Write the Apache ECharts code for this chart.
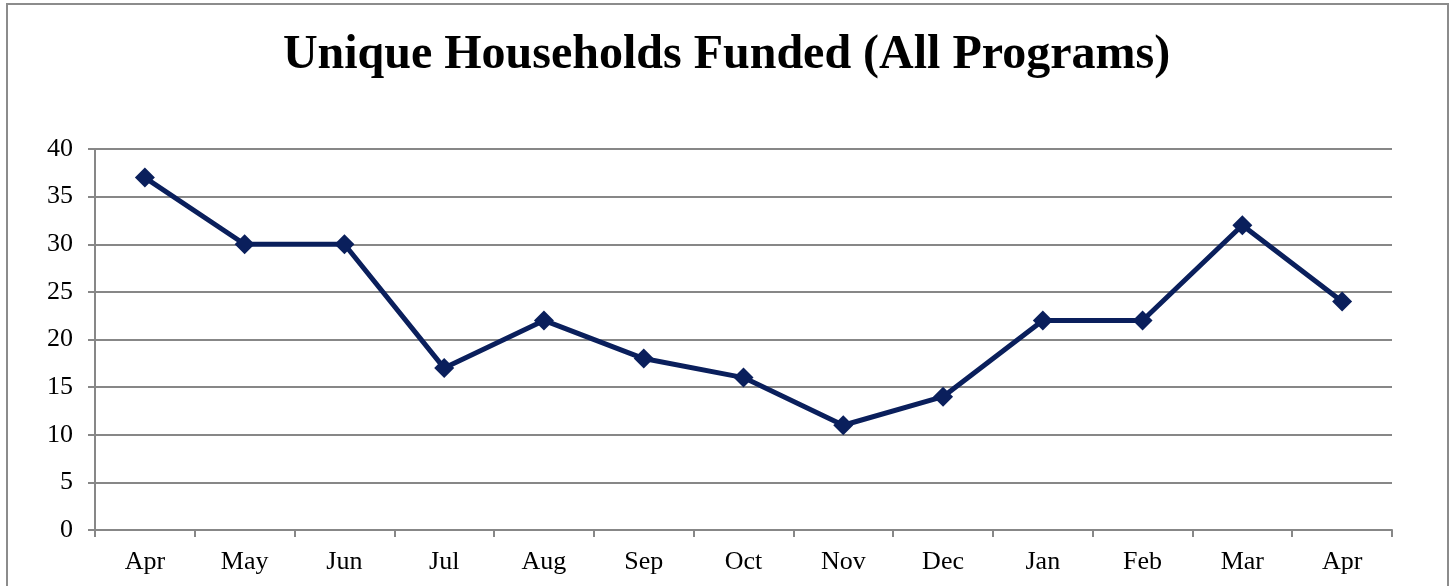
<!DOCTYPE html>
<html>
<head>
<meta charset="utf-8">
<script src="https://cdn.jsdelivr.net/npm/echarts@6/dist/echarts.min.js"></script>
<style>
  html, body { margin: 0; padding: 0; background: #fff; }
  #chart { width: 1453px; height: 586px; }
</style>
</head>
<body>
<div id="chart"></div>
<script>
const months = ['Apr', 'May', 'Jun', 'Jul', 'Aug', 'Sep', 'Oct', 'Nov', 'Dec', 'Jan', 'Feb', 'Mar', 'Apr'];
const households = [37, 30, 30, 17, 22, 18, 16, 11, 14, 22, 22, 32, 24];
const yTicks = { min: 0, max: 40, interval: 5 };

const serif = '"Liberation Serif", "Times New Roman", serif';
const axisGray = '#878787';

const chart = echarts.init(document.getElementById('chart'));
chart.setOption({
  animation: false,
  backgroundColor: '#fff',
  title: {
    text: 'Unique Households Funded (All Programs)',
    left: 'center',
    top: 27,
    textStyle: { fontFamily: serif, fontWeight: 'bold', fontSize: 48, color: '#000' }
  },
  graphic: [{
    type: 'rect',
    shape: { x: 7, y: 4, width: 1441, height: 620 },
    style: { fill: 'none', stroke: '#8c8c8c', lineWidth: 2 },
    silent: true
  }],
  grid: { left: 95, right: 61, top: 149, bottom: 56 },
  xAxis: {
    type: 'category',
    data: months,
    boundaryGap: true,
    axisLine: { lineStyle: { color: axisGray, width: 2 } },
    axisTick: { show: true, length: 7, lineStyle: { color: axisGray, width: 2 } },
    axisLabel: { fontFamily: serif, fontSize: 26, color: '#000', margin: 19 }
  },
  yAxis: {
    type: 'value',
    min: yTicks.min,
    max: yTicks.max,
    interval: yTicks.interval,
    axisLine: { show: true, lineStyle: { color: axisGray, width: 2 } },
    axisTick: { show: true, length: 7, lineStyle: { color: axisGray, width: 2 } },
    axisLabel: { fontFamily: serif, fontSize: 26, color: '#000', margin: 22 },
    splitLine: { lineStyle: { color: axisGray, width: 2 } }
  },
  series: [{
    type: 'line',
    data: households,
    symbol: 'diamond',
    symbolSize: 20,
    lineStyle: { color: '#0a1f5c', width: 5 },
    itemStyle: { color: '#0a1f5c' }
  }]
});
</script>
</body>
</html>
